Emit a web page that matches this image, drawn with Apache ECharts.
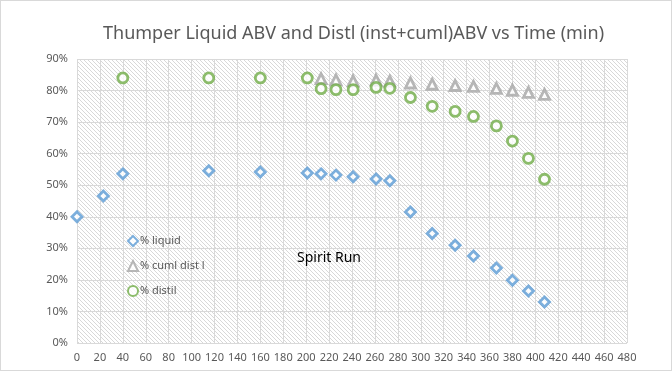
<!DOCTYPE html>
<html><head><meta charset="utf-8">
<script src="https://cdn.jsdelivr.net/npm/echarts@6/dist/echarts.min.js"></script>
<style>
html,body{margin:0;padding:0;background:#fff;}
#c{width:672px;height:371px;box-sizing:border-box;border:1px solid #d9d9d9;}
</style></head><body>
<div id="c"></div>
<script>
const title = "Thumper Liquid ABV and Distl (inst+cuml)ABV vs Time (min)";
const liquidTime = [0, 23, 40, 115, 160, 201, 213, 226, 241, 261, 273, 291, 310, 330, 346, 366, 380, 394, 408];
const liquidAbv  = [40.0, 46.6, 53.6, 54.6, 54.2, 53.9, 53.6, 53.2, 52.7, 52.0, 51.4, 41.5, 34.7, 31.0, 27.6, 23.8, 19.9, 16.5, 13.0];
const cumlTime = [213, 226, 241, 261, 273, 291, 310, 330, 346, 366, 380, 394, 408];
const cumlAbv  = [83.8, 83.4, 83.1, 83.3, 83.0, 82.4, 82.0, 81.6, 81.3, 80.7, 80.1, 79.4, 78.8];
const distilTime = [40, 115, 160, 201, 213, 226, 241, 261, 273, 291, 310, 330, 346, 366, 380, 394, 408];
const distilAbv  = [84.0, 84.0, 84.0, 84.0, 80.6, 80.3, 80.3, 81.0, 80.7, 77.8, 75.0, 73.4, 71.8, 68.8, 64.0, 58.5, 51.9];
const seriesNames = ["% liquid", "% cuml dist l", "% distil"];
const annotation = "Spirit Run";

function pairs(xs, ys){ return xs.map((x,i)=>[x, ys[i]]); }

// hatch pattern
const pc = document.createElement('canvas');
pc.width = 4; pc.height = 4;
const g = pc.getContext('2d');
g.fillStyle = '#ffffff'; g.fillRect(0,0,4,4);
g.strokeStyle = '#d8d8d8'; g.lineWidth = 1;
g.beginPath(); g.moveTo(-1,-1); g.lineTo(5,5); g.moveTo(3,-1); g.lineTo(5,1); g.moveTo(-1,3); g.lineTo(1,5); g.stroke();

const chart = echarts.init(document.getElementById('c'), null, {renderer:'canvas'});
const font = "'Noto Sans', 'Open Sans', sans-serif";
chart.setOption({
  animation:false,
  textStyle:{fontFamily:font},
  title:{text:title, left:97, top:19, textStyle:{fontFamily:font, fontSize:18, fontWeight:'normal', color:'#595959'}},
  grid:{left:76, right:44, top:58, bottom:27, show:true, borderWidth:0, backgroundColor:{image:pc, repeat:'repeat'}},
  legend:{orient:'vertical', left:121, top:229, itemWidth:10, itemHeight:10, itemGap:13,
    textStyle:{color:'#595959', fontSize:11, fontFamily:font, padding:[0,0,0,-3]}, data:seriesNames},
  xAxis:{type:'value', min:0, max:480, interval:20,
    axisLine:{show:false}, axisTick:{show:false},
    axisLabel:{color:'#595959', fontSize:11, margin:9},
    splitLine:{show:true, lineStyle:{color:'#d9d9d9', width:1}}},
  yAxis:{type:'value', min:0, max:90, interval:10,
    axisLine:{show:false}, axisTick:{show:false},
    axisLabel:{color:'#595959', fontSize:11, formatter:'{value}%', margin:9},
    splitLine:{show:true, lineStyle:{color:'#d9d9d9', width:1}}},
  graphic:[{type:'text', left:296, top:250, z:100, style:{text:annotation, fill:'#000', font:"14px "+font}}],
  series:[
    {name:seriesNames[0], type:'scatter', symbol:'diamond', symbolSize:10, data:pairs(liquidTime, liquidAbv),
     itemStyle:{color:'#ffffff', borderColor:'#5b9bd5', borderWidth:2.8}},
    {name:seriesNames[1], type:'scatter', symbol:'triangle', symbolSize:10, data:pairs(cumlTime, cumlAbv),
     itemStyle:{color:'#ffffff', borderColor:'#a5a5a5', borderWidth:2.8}},
    {name:seriesNames[2], type:'scatter', symbol:'circle', symbolSize:10, data:pairs(distilTime, distilAbv),
     itemStyle:{color:'#ffffff', borderColor:'#70ad47', borderWidth:2.8}}
  ]
});
</script>
</body></html>
